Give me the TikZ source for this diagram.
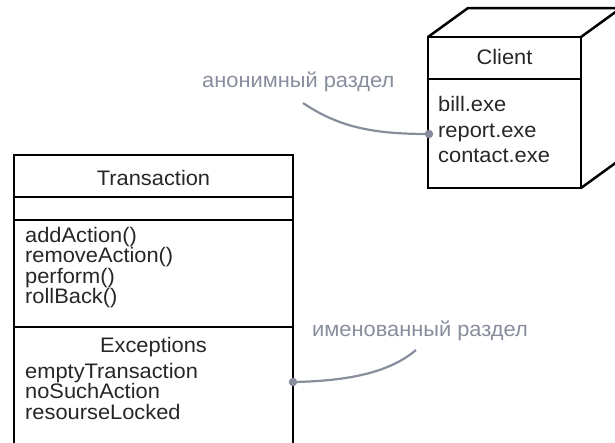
\documentclass[tikz,border=0pt]{standalone}
\usepackage{fontspec}
\setmainfont[FakeStretch=1.04]{Liberation Sans}
\definecolor{notegray}{HTML}{878D9D}
\begin{document}
\begin{tikzpicture}[x=1pt,y=-1pt,
  box/.style={line width=2.5pt, black, line join=miter},
  txt/.style={inner sep=0pt, font=\fontsize{21}{25}\selectfont, text=black!85},
  note/.style={inner sep=0pt, font=\fontsize{21}{25}\selectfont, text=notegray},
  dotnode/.style={circle, fill=notegray, inner sep=0pt, minimum size=8.5pt},
  link/.style={notegray, line width=2.2pt}]
\useasboundingbox (0,0) rectangle (615,442);
\clip (0,0) rectangle (615,442);
% Transaction class
\draw[box] (14,450) -- (14,155) -- (293,155) -- (293,450);
\draw[box] (14,197) -- (293,197);
\draw[box] (14,220) -- (293,220);
\draw[box] (14,327) -- (293,327);
\node[txt, anchor=base] (tname) at (153.5,185) {Transaction};
\node[txt, anchor=base west] (op1) at (25,242) {addAction()};
\node[txt, anchor=base west] (op2) at (25,262.5) {removeAction()};
\node[txt, anchor=base west] (op3) at (25,283) {perform()};
\node[txt, anchor=base west] (op4) at (25,303.5) {rollBack()};
\node[txt, anchor=base] (exc) at (153.5,352) {Exceptions};
\node[txt, anchor=base west] (ex1) at (25,378) {emptyTransaction};
\node[txt, anchor=base west] (ex2) at (25,398.5) {noSuchAction};
\node[txt, anchor=base west] (ex3) at (25,419) {resourseLocked};
% Client node (cube)
\draw[box] (428,37) rectangle (581,188);
\draw[box] (428,79) -- (581,79);
\draw[box] (428,37) -- (468,8) -- (621,8) -- (581,37);
\draw[box] (621,8) -- (621,159) -- (581,188);
\node[txt, anchor=base] (cname) at (504.5,64) {Client};
\node[txt, anchor=base west] (c1) at (438,111) {bill.exe};
\node[txt, anchor=base west] (c2) at (438,137) {report.exe};
\node[txt, anchor=base west] (c3) at (438,162) {contact.exe};
% notes
\node[note, anchor=base west] (n1) at (202,87) {анонимный раздел};
\node[note, anchor=base west] (n2) at (312,336) {именованный раздел};
\coordinate (n1end) at (303,103);
\coordinate (n2end) at (416,350);
\node[dotnode] (d1) at (429,134) {};
\node[dotnode] (d2) at (293,382) {};
\draw[link] (n1end) .. controls (340,128) and (375,134) .. (d1.center);
\draw[link] (d2.center) .. controls (350,381) and (390,372) .. (n2end);
\end{tikzpicture}
\end{document}
